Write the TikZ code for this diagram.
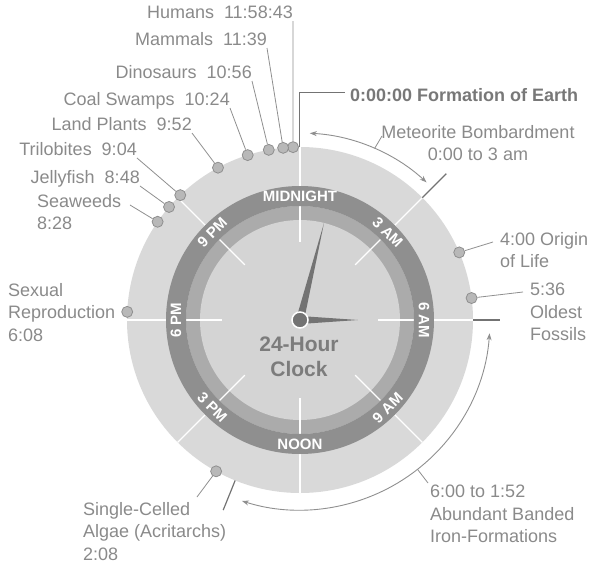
\documentclass[tikz,border=0pt]{standalone}
\usepackage{fontspec}
\setmainfont{Liberation Sans}
\usetikzlibrary{arrows.meta}
\definecolor{diskgray}{gray}{0.85}
\definecolor{bandgray}{gray}{0.56}
\definecolor{ringgray}{gray}{0.67}
\definecolor{facegray}{gray}{0.83}
\definecolor{txtgray}{gray}{0.54}
\definecolor{titlegray}{gray}{0.47}
\definecolor{linegray}{gray}{0.56}
\definecolor{dotgray}{gray}{0.72}
\definecolor{handgray}{gray}{0.45}
\newcommand{\lblfont}{\fontsize{18}{22.5}\selectfont}
\begin{document}
\begin{tikzpicture}[x=1pt, y=1pt,
  lbl/.style={text=txtgray, font=\lblfont, inner sep=0pt},
  evdot/.style={circle, draw=linegray, fill=dotgray, line width=0.8pt, inner sep=0pt, minimum size=11pt},
  leader/.style={draw=linegray, line width=0.8pt},
  marker/.style={draw=handgray, line width=1.2pt},
  span/.style={draw=linegray, line width=0.9pt, {Stealth[length=7pt,width=5pt]}-{Stealth[length=7pt,width=5pt]}},
  hourtxt/.style={text=white, font=\fontsize{15}{15}\selectfont\bfseries, inner sep=0pt},
  tick/.style={draw=white, line width=1.4pt}]
\useasboundingbox (-300,-246) rectangle (300,320);
% clock face
\fill[diskgray] (0,0) circle[radius=173];
\fill[ringgray] (0,0) circle[radius=114];
\fill[facegray] (0,0) circle[radius=100];
\foreach \a in {0,45,...,315}
	\draw[tick] (\a:78) -- (\a:173);
\fill[bandgray, even odd rule] (0,0) circle[radius=134] circle[radius=114];
\foreach \n/\a/\r/\t in {mid/90/0/MIDNIGHT, am3/45/-45/3 AM, am6/0/-90/6 AM, am9/-45/45/9 AM,
	noon/-90/0/NOON, pm3/-135/-45/3 PM, pm6/180/90/6 PM, pm9/135/45/9 PM}
	\node[hourtxt, rotate=\r] (\n) at (\a:124) {\t};
\node[lbl, text=txtgray!90!black, font=\fontsize{21}{25}\selectfont\bfseries, align=center, anchor=north] (title) at (-1,-17) {24-Hour\\Clock};
% hands
\fill[handgray] (166.1:4) -- (76.1:100) -- (-13.9:4) -- cycle;
\fill[handgray] (90:4) -- (0:58) -- (-90:4) -- cycle;
\node[circle, fill=handgray, draw=white, line width=1.5pt, minimum size=16pt, inner sep=0pt] (hub) at (0,0) {};
% spans and markers
\draw[marker] (45:173) -- (45:207);
\draw[marker] (0:173) -- (0:200);
\draw[marker] (-112:173) -- (-112:205);
\draw[span] (87:187) arc[start angle=87, end angle=47.4, radius=187];
\draw[span] (-4:190) arc[start angle=-4, end angle=-107.8, radius=190];
\coordinate (met-s) at (66.5:187);
\coordinate (iron-s) at (-51.8:190);
% events
\foreach \n/\a in {hum/92.3, mam/95.6, dino/100.4, coal/107.6, land/118.3, tril/133.8,
	jelly/139.2, sea/145.4, sex/177.3, alg/-119, ori/23, fos/7.3}
	\node[evdot] (\n) at (\a:173) {};
\node[lbl, anchor=base east] (hum-l) at (-7,302) {Humans~~11:58:43};
\node[lbl, anchor=base east] (mam-l) at (-33,275) {Mammals~~11:39};
\node[lbl, anchor=base east] (dino-l) at (-48,242) {Dinosaurs~~10:56};
\node[lbl, anchor=base east] (coal-l) at (-70,215) {Coal Swamps~~10:24};
\node[lbl, anchor=base east] (land-l) at (-108,190) {Land Plants~~9:52};
\node[lbl, anchor=base east] (tril-l) at (-163,165) {Trilobites~~9:04};
\node[lbl, anchor=base east] (jelly-l) at (-160,137) {Jellyfish~~8:48};
\foreach \n in {hum,mam,dino,coal,land,tril,jelly}
	\draw[leader] (\n) -- ([yshift=-3pt]\n-l.base east);
\node[lbl, align=left, anchor=north west] (sea-l) at (-263,126) {Seaweeds\\8:28};
\node[lbl, align=left, anchor=north west] (sex-l) at (-292,37) {Sexual\\Reproduction\\6:08};
\node[lbl, align=left, anchor=north west] (alg-l) at (-217,-182) {Single-Celled\\Algae (Acritarchs)\\2:08};
\node[lbl, align=left, anchor=north west] (ori-l) at (200,88) {4:00 Origin\\of Life};
\node[lbl, align=left, anchor=north west] (fos-l) at (230,37) {5:36\\Oldest\\Fossils};
\node[lbl, align=left, anchor=north west] (iron-l) at (130,-165) {6:00 to 1:52\\Abundant Banded\\Iron-Formations};
\node[lbl, align=center, anchor=north] (met-l) at (178,195) {Meteorite Bombardment\\0:00 to 3 am};
\node[lbl, text=titlegray, font=\lblfont\bfseries, anchor=west] (earth-l) at (50,225) {0:00:00 Formation of Earth};
\coordinate (sea-e) at (-170,115);
\coordinate (alg-e) at (-103,-177);
\coordinate (ori-e) at (193,78);
\coordinate (fos-e) at (223,28);
\coordinate (iron-e) at (128,-163);
\coordinate (met-e) at (82,184);
\coordinate (earth) at (90:173);
\foreach \n in {sea,alg,ori,fos}
	\draw[leader] (\n) -- (\n-e);
\draw[leader] (iron-s) -- (iron-e);
\draw[leader] (met-s) -- (met-e);
\draw[marker, line width=1pt] (earth) |- ([xshift=-5pt, yshift=3pt]earth-l.west);
\end{tikzpicture}
\end{document}
